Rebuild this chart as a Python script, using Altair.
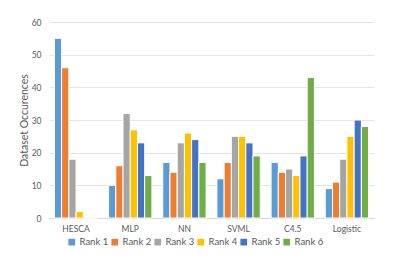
import altair as alt
import pandas as pd

categories = ["HESCA", "MLP", "NN", "SVML", "C4.5", "Logistic"]
ranks = ["Rank 1", "Rank 2", "Rank 3", "Rank 4", "Rank 5", "Rank 6"]
rank1 = [55, 10, 17, 12, 17, 9]
rank2 = [46, 16, 14, 17, 14, 11]
rank3 = [18, 32, 23, 25, 15, 18]
rank4 = [2, 27, 26, 25, 13, 25]
rank5 = [0, 23, 24, 23, 19, 30]
rank6 = [0, 13, 17, 19, 43, 28]
colors = ["#5B9BD5", "#ED7D31", "#A5A5A5", "#FFC000", "#4472C4", "#70AD47"]

series = [rank1, rank2, rank3, rank4, rank5, rank6]
rows = []
for r, vals in zip(ranks, series):
    for c, v in zip(categories, vals):
        rows.append({"Method": c, "Rank": r, "Value": v})
df = pd.DataFrame(rows)

FONT = "Lato"
TXT = "#595959"

chart = alt.Chart(df).mark_bar(stroke="white", strokeWidth=1).encode(
    x=alt.X("Method:N", sort=categories,
            scale=alt.Scale(paddingInner=0.2, paddingOuter=0.1),
            axis=alt.Axis(title=None, labelAngle=0, ticks=False, labelPadding=6,
                          domainColor="#D9D9D9", labelFont=FONT, labelFontSize=8.5,
                          labelColor=TXT)),
    xOffset=alt.XOffset("Rank:N", sort=ranks),
    y=alt.Y("Value:Q", scale=alt.Scale(domain=[0, 60]),
            axis=alt.Axis(title="Dataset Occurences", values=[0, 10, 20, 30, 40, 50, 60],
                          domain=False, ticks=False, labelPadding=8,
                          gridColor="#E4E4E4", labelFont=FONT, labelFontSize=8.5,
                          labelColor=TXT, titleFont=FONT, titleFontSize=10.5,
                          titleFontWeight="normal", titleColor=TXT, titlePadding=2)),
    color=alt.Color("Rank:N", sort=ranks,
                    scale=alt.Scale(domain=ranks, range=colors),
                    legend=alt.Legend(title=None, orient="none", direction="horizontal",
                                      legendX=18, legendY=215,
                                      symbolType="square", symbolSize=45,
                                      symbolStrokeWidth=0, labelFont=FONT,
                                      labelFontSize=9.5, labelColor=TXT,
                                      columnPadding=1, labelOffset=3)),
).properties(
    width=325, height=196,
    autosize=alt.AutoSizeParams(type="none"),
    padding={"left": 41, "top": 14, "right": 10, "bottom": 40},
).configure_view(stroke=None)

chart.save("out.html", embed_options={"renderer": "svg", "actions": False})
